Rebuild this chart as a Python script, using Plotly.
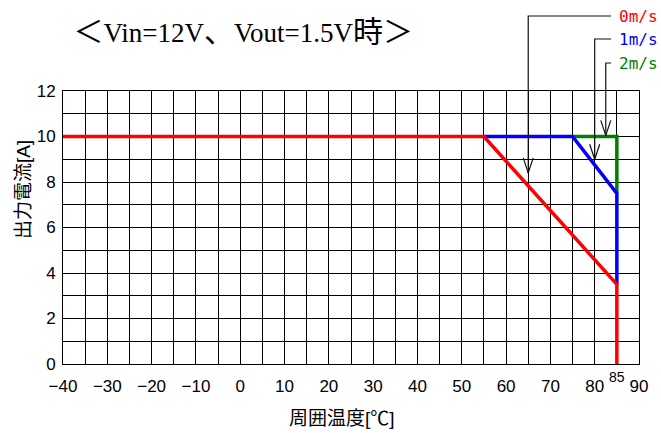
import plotly.graph_objects as go

# Output-current derating curves at Vin=12V, Vout=1.5V, per airflow speed
temp_0ms = [-40, 55, 85, 85]
curr_0ms = [10, 10, 3.5, 0]
temp_1ms = [55, 75, 85, 85]
curr_1ms = [10, 10, 7.5, 3.5]
temp_2ms = [75, 85, 85]
curr_2ms = [10, 10, 7.5]

series_names = ["0m/s", "1m/s", "2m/s"]
series_colors = ["#ff0000", "#0000ff", "#008000"]

# Leader arrows pointing at each curve: temperature of the arrow and current at its tip
arrow_temp = [65, 80, 82.5]
arrow_tip = [8.4, 9.0, 10.05]
# elbow height of each leader above the plot top (px)
leader_rise = [75, 52, 28]
leader_end_temp = 83.7
label_temp = 85

x_ticks = [-40, -30, -20, -10, 0, 10, 20, 30, 40, 50, 60, 70, 80, 90]
y_ticks = [0, 2, 4, 6, 8, 10, 12]
max_temp_label = "85"

wide = '<span style="font-size:30px">{}</span>'
title_text = (wide.format("＜") + "Vin=12V" + wide.format("、") + "Vout=1.5V"
              + wide.format("時") + wide.format("＞"))
x_title = "周囲温度[℃]"
y_title = "出力電流[A]"

fig = go.Figure()

curves = [(temp_2ms, curr_2ms), (temp_1ms, curr_1ms), (temp_0ms, curr_0ms)]
colors = [series_colors[2], series_colors[1], series_colors[0]]
names = [series_names[2], series_names[1], series_names[0]]
for (xs, ys), c, n in zip(curves, colors, names):
    fig.add_trace(go.Scatter(x=xs, y=ys, mode="lines", name=n,
                             line=dict(color=c, width=3.5), showlegend=False,
                             hoverinfo="skip"))

lead_color = "#111111"
for i in range(3):
    # run above the plot: up from the plot top, then across to the label
    fig.add_shape(type="path", xref="x", yref="paper", ysizemode="pixel", yanchor=1,
                  path=f"M{arrow_temp[i]},0 V{leader_rise[i]} H{leader_end_temp}",
                  line=dict(color=lead_color, width=1.2), layer="above")
    # run inside the plot down to the arrow tip
    fig.add_shape(type="line", xref="x", yref="y",
                  x0=arrow_temp[i], x1=arrow_temp[i], y0=y_ticks[-1], y1=arrow_tip[i],
                  line=dict(color=lead_color, width=1.2), layer="above")
    # open V arrowhead
    fig.add_shape(type="path", xref="x", yref="y",
                  xsizemode="pixel", xanchor=arrow_temp[i],
                  ysizemode="pixel", yanchor=arrow_tip[i],
                  path="M-5,15 L0,0 L5,15",
                  line=dict(color=lead_color, width=1.2), layer="above")
    fig.add_annotation(text=series_names[i], xref="x", x=label_temp, xanchor="left",
                       xshift=0, yref="paper", y=1, yshift=leader_rise[i],
                       yanchor="middle", showarrow=False,
                       font=dict(family="DejaVu Sans Mono", size=16, color=series_colors[i]))

# small marker label for the maximum operating temperature
fig.add_annotation(text=max_temp_label, xref="x", x=label_temp, yref="paper", y=0,
                   yshift=-13, yanchor="middle", xanchor="center", showarrow=False,
                   font=dict(family="Liberation Sans", size=14, color="black"))

title_font = dict(family="Liberation Sans, Noto Sans CJK JP", size=19, color="black")
fig.add_annotation(text=x_title, xref="paper", x=0.484, yref="paper", y=0,
                   yshift=-54, xanchor="center", yanchor="middle", showarrow=False,
                   font=title_font)
fig.add_annotation(text=y_title, xref="paper", x=0, xshift=-40, yref="paper", y=0.637,
                   xanchor="center", yanchor="middle", textangle=-90, showarrow=False,
                   font=title_font)

tick_text = [str(v).replace("-", "\u2212") for v in x_ticks]

fig.update_layout(
    width=661, height=433,
    margin=dict(l=63, r=22, t=91, b=69),
    paper_bgcolor="white", plot_bgcolor="white",
    title=dict(text=title_text, xref="container", yref="container",
               x=0.368, y=1 - 33 / 433, xanchor="center", yanchor="middle",
               font=dict(family="Liberation Serif, Noto Sans CJK JP", size=27, color="black")),
    xaxis=dict(range=[x_ticks[0], x_ticks[-1]], tickmode="array", tickvals=x_ticks,
               ticktext=tick_text,
               showgrid=True, gridcolor="black", gridwidth=1, zeroline=False,
               showline=True, linecolor="black", linewidth=1, mirror=True,
               ticks="", ticklabelstandoff=7,
               tickfont=dict(family="Liberation Sans", size=17, color="black"),
               minor=dict(dtick=5, tick0=-40, showgrid=True, gridcolor="black", gridwidth=1)),
    yaxis=dict(range=[y_ticks[0], y_ticks[-1]], tickmode="array", tickvals=y_ticks,
               showgrid=True, gridcolor="black", gridwidth=1, zeroline=False,
               showline=True, linecolor="black", linewidth=1, mirror=True,
               ticks="", ticklabelstandoff=3,
               tickfont=dict(family="Liberation Sans", size=17, color="black"),
               minor=dict(dtick=1, tick0=0, showgrid=True, gridcolor="black", gridwidth=1)),
)

fig.write_html("out.html")
